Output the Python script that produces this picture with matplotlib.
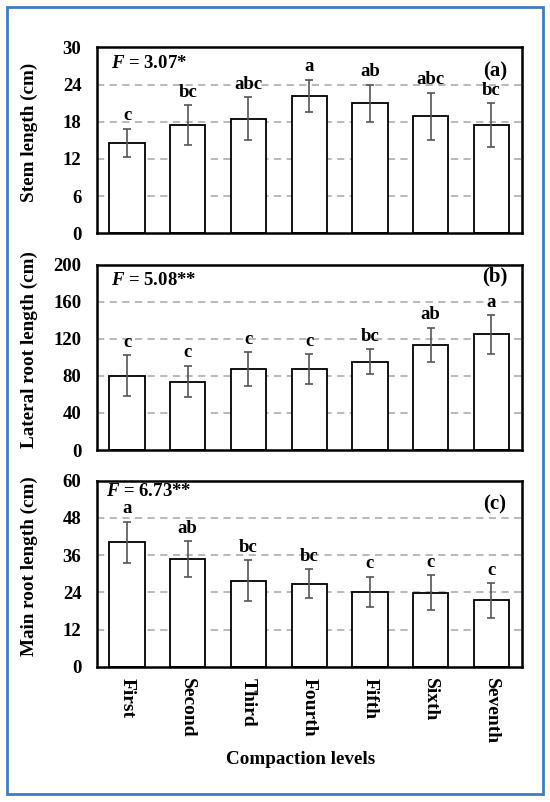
import numpy as np
import matplotlib
matplotlib.use("Agg")
import matplotlib.pyplot as plt
from matplotlib.patches import Rectangle

plt.rcParams['font.family'] = ['Liberation Serif', 'DejaVu Serif']
plt.rcParams['font.weight'] = 'bold'
plt.rcParams['mathtext.fontset'] = 'custom'
plt.rcParams['mathtext.it'] = 'Liberation Serif:italic:bold'
plt.rcParams['mathtext.rm'] = 'Liberation Serif:bold'
plt.rcParams['mathtext.bf'] = 'Liberation Serif:bold'

levels = ['First', 'Second', 'Third', 'Fourth', 'Fifth', 'Sixth', 'Seventh']

stem_mean = [14.6, 17.5, 18.5, 22.2, 21.0, 18.9, 17.5]
stem_err = [2.3, 3.2, 3.5, 2.6, 3.0, 3.8, 3.5]
stem_letters = ['c', 'bc', 'abc', 'a', 'ab', 'abc', 'bc']

lat_mean = [80.4, 74.0, 87.5, 87.5, 95.5, 113.5, 125.0]
lat_err = [22.0, 17.0, 18.5, 16.0, 13.7, 18.6, 20.7]
lat_letters = ['c', 'c', 'c', 'c', 'bc', 'ab', 'a']

main_mean = [40.2, 34.8, 27.8, 26.8, 24.2, 23.9, 21.4]
main_err = [6.6, 5.8, 6.5, 4.6, 4.8, 5.7, 5.6]
main_letters = ['a', 'ab', 'bc', 'bc', 'c', 'c', 'c']

panels = [
    dict(mean=stem_mean, err=stem_err, letters=stem_letters, ymax=30, step=6,
         ylabel='Stem length (cm)', ftxt=r'$F$ = 3.07*', tag='(a)', tagy=0.871, fy=0.914, fx=0.034),
    dict(mean=lat_mean, err=lat_err, letters=lat_letters, ymax=200, step=40,
         ylabel='Lateral root length (cm)', ftxt=r'$F$ = 5.08**', tag='(b)', tagy=0.938, fy=0.914, fx=0.033),
    dict(mean=main_mean, err=main_err, letters=main_letters, ymax=60, step=12,
         ylabel='Main root length (cm)', ftxt=r'$F$ = 6.73**', tag='(c)', tagy=0.874, fy=0.942, fx=0.022),
]

fig = plt.figure(figsize=(5.5, 8.02), dpi=100)
fig.patch.set_facecolor('white')

bottoms = [0.7091, 0.4389, 0.1687]
heights = [0.2319, 0.2307, 0.2319]
x = np.arange(len(levels))

for i, p in enumerate(panels):
    ax = fig.add_axes([0.1758, bottoms[i], 0.7727, heights[i]])
    ax.set_xlim(-0.5, len(levels) - 0.5)
    ax.set_ylim(0, p['ymax'])
    ticks = np.arange(0, p['ymax'] + 1, p['step'])
    ax.set_yticks(ticks)
    for t in ticks[1:-1]:
        ax.axhline(t, color='#b3b3b3', lw=1.3, ls=(0, (4, 3)), zorder=0)
    ax.bar(x, p['mean'], width=0.58, color='white', edgecolor='black', lw=1.3, zorder=2)
    ax.errorbar(x, p['mean'], yerr=p['err'], fmt='none', ecolor='#555555',
                elinewidth=1.2, capsize=3, capthick=1.2, zorder=3)
    for xi, m, e, lab in zip(x, p['mean'], p['err'], p['letters']):
        ax.annotate(lab, (xi, m + e), xytext=(0, 6), textcoords='offset points',
                    ha='center', va='baseline', fontsize=13.5, fontweight='bold')
    ax.text(p['fx'], p['fy'], p['ftxt'], transform=ax.transAxes, ha='left', va='center',
            fontsize=13.5, fontweight='bold')
    ax.text(0.937, p['tagy'], p['tag'], transform=ax.transAxes, ha='center', va='center',
            fontsize=15, fontweight='bold')
    for s in ax.spines.values():
        s.set_linewidth(1.8)
    ax.tick_params(axis='y', length=0, pad=11, labelsize=13.5)
    ax.tick_params(axis='x', length=0)
    ax.set_ylabel(p['ylabel'], fontsize=13.8, fontweight='bold')
    ax.yaxis.set_label_coords(-0.137, 0.542)
    if i < 2:
        ax.set_xticks([])
    else:
        ax.set_xticks(x)
        ax.set_xticklabels(levels, rotation=-90, fontsize=14, fontweight='bold')
        ax.tick_params(axis='x', pad=8)
        ax.text(0.48, (666.7 - 760) / 186, 'Compaction levels', transform=ax.transAxes,
                ha='center', va='center', fontsize=13.8, fontweight='bold')

fig.patches.append(Rectangle((7 / 550, 8 / 802), 536 / 550, 787 / 802, transform=fig.transFigure,
                             fill=False, edgecolor='#3b7dc4', lw=2))

fig.savefig('out.png', dpi=100)
